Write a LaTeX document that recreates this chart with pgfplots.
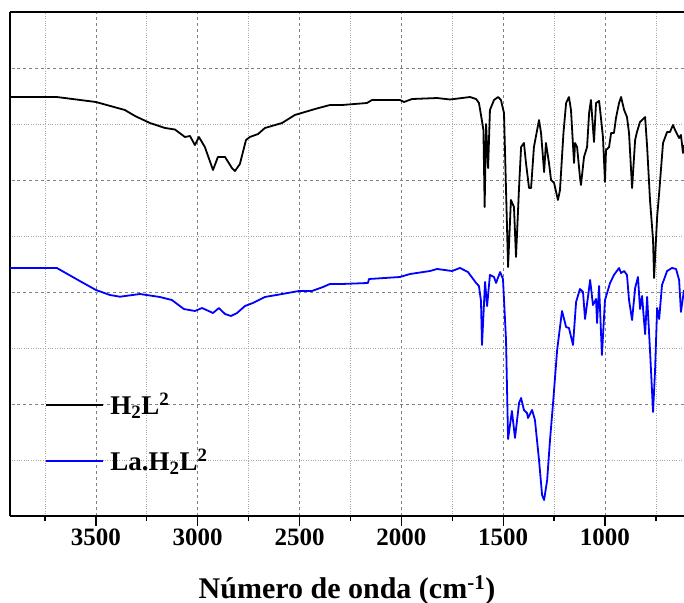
\documentclass[border=0pt]{standalone}
\usepackage{fontspec}
\setmainfont{Liberation Serif}
\usepackage{pgfplots}
\pgfplotsset{compat=1.18}
\begin{document}
\begin{tikzpicture}
\begin{axis}[
  at={(0,0)}, anchor=south west,
  scale only axis,
  width=674bp, height=504bp,
  x dir=reverse,
  xmin=612, xmax=3922,
  ymin=0, ymax=9,
  axis x line*=box, axis y line*=left,
  axis line style={line width=1.3bp},
  xtick={1000,1500,2000,2500,3000,3500},
  minor xtick={750,1250,1750,2250,2750,3250,3750},
  ytick={2,4,6,8},
  minor ytick={1,3,5,7},
  yticklabels={},
  ytick style={draw=none},
  every minor y tick/.style={draw=none},
  xtick pos=bottom,
  tick align=outside,
  major tick length=10bp,
  minor tick length=5bp,
  xtick style={line width=1.3bp, black},
  /pgf/number format/1000 sep={},
  /pgf/number format/assume math mode=true,
  xticklabel style={font=\fontsize{25bp}{30bp}\selectfont\bfseries, yshift=1bp},
  grid=both,
  major grid style={dashed, gray, line width=0.8bp},
  minor grid style={dotted, gray!70, line width=0.8bp},
  xlabel={N\'umero de onda (cm\textsuperscript{-1})},
  xlabel style={font=\fontsize{30bp}{34bp}\selectfont\bfseries, at={(0.5,0)}, anchor=base, yshift=-82bp},
  legend style={at={(0.048,0.165)}, anchor=west, draw=none, fill=none,
    font=\fontsize{27bp}{30bp}\selectfont\bfseries,
    row sep=0pt, column sep=6bp,
    nodes={inner sep=0pt, minimum height=56bp}},
  legend cell align=left,
  legend image code/.code={\draw[#1] (0bp,0bp) -- (57bp,0bp);},
]
\addplot[black, line width=1.8bp, line join=round] table {
3922 7.482
3692 7.482
3500 7.393
3358 7.25
3308 7.143
3235 7.018
3161 6.929
3112 6.902
3063 6.768
3038 6.786
3014 6.625
2994 6.768
2965 6.589
2925 6.179
2901 6.411
2866 6.411
2832 6.214
2817 6.161
2793 6.286
2763 6.714
2744 6.768
2704 6.821
2670 6.929
2586 7.018
2523 7.161
2424 7.268
2351 7.339
2292 7.339
2169 7.375
2144 7.429
2007 7.429
1987 7.393
1948 7.446
1825 7.464
1761 7.438
1702 7.464
1663 7.482
1633 7.446
1619 7.375
1609 7.161
1597 6.893
1591 5.518
1584 7.0
1574 6.214
1565 7.25
1545 7.429
1525 7.482
1511 7.429
1496 7.196
1476 4.446
1462 5.643
1447 5.518
1437 4.625
1422 5.875
1412 6.589
1398 6.661
1388 6.304
1373 5.857
1363 5.857
1349 6.589
1324 7.071
1314 6.839
1299 6.143
1290 6.661
1275 6.304
1265 6.0
1250 5.946
1231 5.643
1221 5.821
1204 6.839
1191 7.375
1177 7.482
1167 7.25
1152 6.304
1147 6.661
1137 6.589
1123 6.054
1118 5.911
1103 6.411
1088 6.589
1078 7.196
1069 7.429
1054 6.679
1044 7.375
1029 7.411
1024 7.25
1010 6.768
1000 5.964
995 6.536
980 6.589
970 6.839
956 6.839
946 7.107
931 7.375
921 7.482
906 7.25
892 7.125
882 6.839
867 5.857
852 6.714
843 6.857
828 7.036
803 7.125
793 6.589
779 5.643
764 4.929
759 4.25
744 5.339
734 5.768
715 6.661
695 6.857
681 6.857
666 6.982
656 6.893
636 6.75
627 6.804
617 6.482
612 6.625
};
\addlegendentry{H\textsubscript{2}L\textsuperscript{2}}
\addplot[blue, line width=1.8bp, line join=round] table {
3922 4.429
3692 4.429
3579 4.196
3500 4.036
3431 3.946
3382 3.916
3284 3.964
3186 3.911
3127 3.857
3068 3.696
3014 3.661
2979 3.714
2925 3.625
2896 3.714
2866 3.607
2837 3.571
2807 3.625
2768 3.75
2729 3.804
2670 3.911
2586 3.964
2503 4.018
2439 4.018
2385 4.089
2351 4.143
2292 4.143
2164 4.161
2159 4.232
2007 4.268
1958 4.321
1859 4.375
1825 4.411
1751 4.375
1712 4.429
1673 4.357
1633 4.161
1619 4.107
1609 3.839
1604 3.054
1589 4.179
1579 3.75
1565 4.304
1545 4.268
1535 4.161
1515 4.357
1501 4.232
1486 3.143
1476 1.375
1457 1.875
1442 1.393
1422 2.018
1412 2.107
1398 1.893
1383 1.839
1378 1.75
1358 1.893
1344 1.714
1324 1.0
1309 0.375
1299 0.286
1284 0.643
1270 1.357
1255 2.018
1235 2.964
1211 3.661
1191 3.375
1177 3.357
1157 3.054
1142 3.821
1123 4.054
1108 4.0
1098 3.518
1083 3.929
1073 4.214
1059 3.768
1044 3.875
1039 3.446
1029 4.107
1015 2.875
1000 3.857
975 4.161
956 4.304
931 4.429
921 4.339
906 4.375
892 4.304
882 3.857
867 3.5
852 4.071
838 4.268
828 3.696
818 3.929
803 3.25
793 3.911
779 2.964
764 1.857
754 2.607
744 3.714
734 3.518
720 4.125
695 4.375
671 4.429
651 4.411
636 4.214
627 3.643
612 4.036
};
\addlegendentry{La.H\textsubscript{2}L\textsuperscript{2}}
\end{axis}
\pgfresetboundingbox
\path[use as bounding box] (-10bp,-87bp) rectangle (674bp,516bp);
\end{tikzpicture}
\end{document}
